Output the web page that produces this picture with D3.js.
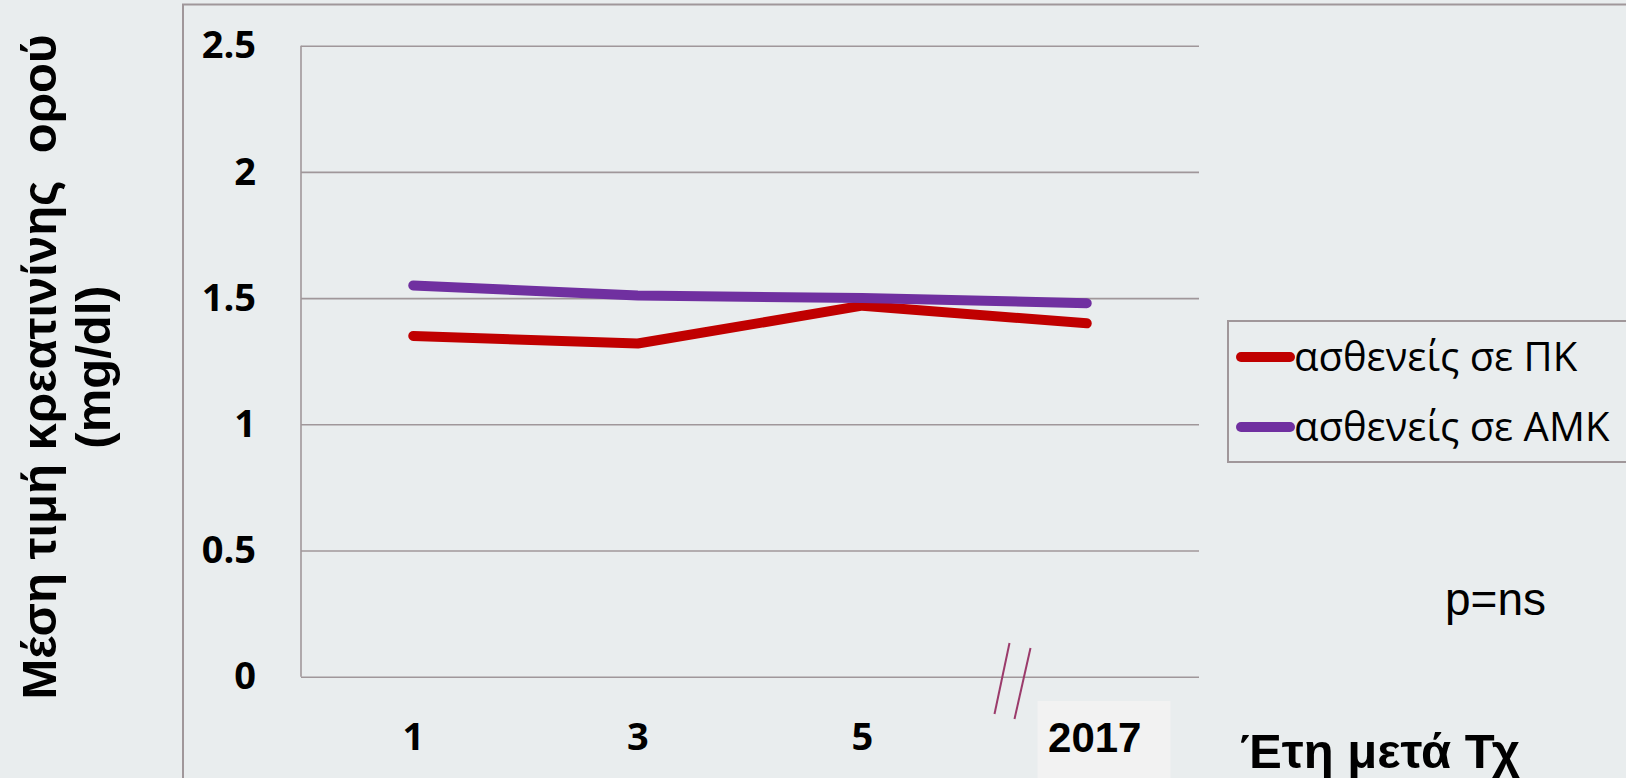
<!DOCTYPE html>
<html>
<head>
<meta charset="utf-8">
<script src="https://cdn.jsdelivr.net/npm/d3@7"></script>
<style>
  html, body { margin: 0; padding: 0; background: #e9edee; overflow: hidden; }
</style>
</head>
<body>
<div id="canvas"></div>
<script>
"use strict"

// data
let categories = ["1", "3", "5", "2017"]
let pkValues = [1.35, 1.32, 1.47, 1.40]     // ασθενείς σε ΠΚ
let amkValues = [1.55, 1.51, 1.50, 1.48]    // ασθενείς σε ΑΜΚ
let yTicks = [0, 0.5, 1, 1.5, 2, 2.5]
let yTickLabels = ["0", "0.5", "1", "1.5", "2", "2.5"]
let seriesNames = ["ασθενείς σε ΠΚ", "ασθενείς σε ΑΜΚ"]
let seriesColors = ["#c00000", "#7030a0"]

let width = 1626
let height = 778
let gridColor = "#a0979a"

let drawing = d3.select("#canvas")
    .append("svg")
    .attr("width", width)
    .attr("height", height)

// outer frame (only top and left show)
drawing.append("path")
    .attr("d", "M183," + height + " L183,4.5 L" + width + ",4.5")
    .attr("fill", "none")
    .attr("stroke", gridColor)
    .attr("stroke-width", 2)

let plotLeft = 301
let plotRight = 1199
let plotTop = 45.7
let plotBottom = 676.7

let x = d3.scaleBand()
    .domain(categories)
    .range([plotLeft, plotRight])

let y = d3.scaleLinear()
    .domain([0, 2.5])
    .range([plotBottom, plotTop])

// y axis with gridlines
let yAxis = drawing.append("g")
    .attr("transform", "translate(" + plotLeft + ",0)")
    .call(d3.axisLeft(y)
        .tickValues(yTicks)
        .tickFormat((d, i) => yTickLabels[i])
        .tickSize(-(plotRight - plotLeft))
        .tickPadding(45))

yAxis.select(".domain").remove()
yAxis.selectAll(".tick line")
    .attr("stroke", gridColor)
    .attr("stroke-width", 1.6)
yAxis.selectAll(".tick text")
    .attr("font-family", "'Open Sans', sans-serif")
    .attr("font-weight", "bold")
    .attr("font-size", 38)
    .attr("fill", "#000")

// left vertical axis line
drawing.append("line")
    .attr("x1", plotLeft)
    .attr("x2", plotLeft)
    .attr("y1", y(2.5))
    .attr("y2", y(0))
    .attr("stroke", gridColor)
    .attr("stroke-width", 1.6)

// box behind the 2017 label
let lastCat = categories[categories.length - 1]
drawing.append("rect")
    .attr("x", x(lastCat) + 63)
    .attr("y", 701)
    .attr("width", 133)
    .attr("height", 77)
    .attr("fill", "#f2f2f2")

// x axis labels
let xAxis = drawing.append("g")
    .attr("transform", "translate(0," + plotBottom + ")")
    .call(d3.axisBottom(x).tickSize(0).tickPadding(0))

xAxis.select(".domain").remove()
xAxis.selectAll(".tick text")
    .attr("dy", null)
    .attr("y", 73)
    .attr("font-family", "'Open Sans', sans-serif")
    .attr("font-weight", "bold")
    .attr("font-size", 38)
    .attr("fill", "#000")

xAxis.selectAll(".tick")
    .filter(d => d === lastCat)
    .select("text")
    .attr("x", 8)
    .attr("y", 75)
    .attr("font-family", "'Liberation Sans', Arial, sans-serif")
    .attr("font-size", 42)

// axis break marks
let breakX = x(lastCat)
for (let k = 0; k < 2; k++) {
    drawing.append("line")
        .attr("x1", breakX + 35 + k * 21)
        .attr("y1", 643 + k * 5)
        .attr("x2", breakX + 20 + k * 20)
        .attr("y2", 714 + k * 5)
        .attr("stroke", "#9b3b6b")
        .attr("stroke-width", 2)
}

// series lines
let line = d3.line()
    .x((d, i) => x(categories[i]) + x.bandwidth() / 2)
    .y(d => y(d))

let allSeries = [pkValues, amkValues]
allSeries.forEach((vals, s) => {
    drawing.append("path")
        .datum(vals)
        .attr("d", line)
        .attr("fill", "none")
        .attr("stroke", seriesColors[s])
        .attr("stroke-width", 10)
        .attr("stroke-linecap", "round")
        .attr("stroke-linejoin", "round")
})

// legend
let legend = drawing.append("g")
legend.append("rect")
    .attr("x", 1228)
    .attr("y", 321)
    .attr("width", 420)
    .attr("height", 141)
    .attr("fill", "none")
    .attr("stroke", gridColor)
    .attr("stroke-width", 2)

seriesNames.forEach((name, i) => {
    let rowY = 357 + i * 70
    legend.append("line")
        .attr("x1", 1241)
        .attr("x2", 1290)
        .attr("y1", rowY)
        .attr("y2", rowY)
        .attr("stroke", seriesColors[i])
        .attr("stroke-width", 10)
        .attr("stroke-linecap", "round")
    legend.append("text")
        .attr("x", 1294)
        .attr("y", rowY + 14)
        .attr("font-family", "'Open Sans', sans-serif")
        .attr("font-size", 40)
        .attr("fill", "#000")
        .text(name)
})

// p value note
drawing.append("text")
    .attr("x", 1445)
    .attr("y", 615)
    .attr("font-family", "'Liberation Sans', Arial, sans-serif")
    .attr("font-size", 46)
    .attr("fill", "#000")
    .text("p=ns")

// x axis title
drawing.append("text")
    .attr("x", 1240)
    .attr("y", 768)
    .attr("font-family", "'Liberation Sans', Arial, sans-serif")
    .attr("font-weight", "bold")
    .attr("font-size", 49)
    .attr("fill", "#000")
    .text("Έτη μετά Τχ")

// y axis title, two lines
let yTitleLines = ["Μέση τιμή κρεατινίνης  ορού", "(mg/dl)"]
yTitleLines.forEach((t, i) => {
    drawing.append("text")
        .attr("transform", "translate(" + (56 + i * 54) + ",367) rotate(-90)")
        .attr("text-anchor", "middle")
        .attr("font-family", "'Liberation Sans', Arial, sans-serif")
        .attr("font-weight", "bold")
        .attr("font-size", 49)
        .attr("fill", "#000")
        .attr("xml:space", "preserve")
        .style("white-space", "pre")
        .text(t)
})
</script>
</body>
</html>
